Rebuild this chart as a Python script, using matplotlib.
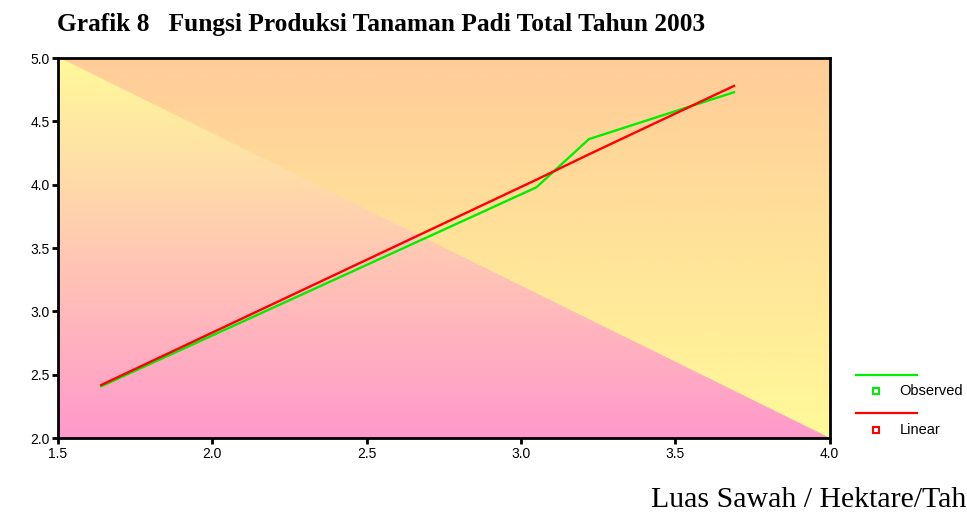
import matplotlib as mpl
mpl.use("Agg")
import matplotlib.pyplot as plt
from matplotlib.lines import Line2D
import numpy as np

# data
luas_sawah = [1.64, 3.05, 3.22, 3.69]
observed = [2.41, 3.98, 4.36, 4.73]
linear = [2.42, 4.04, 4.24, 4.78]

x_ticks = [1.5, 2.0, 2.5, 3.0, 3.5, 4.0]
y_ticks = [2.0, 2.5, 3.0, 3.5, 4.0, 4.5, 5.0]

TITLE = "Grafik 8   Fungsi Produksi Tanaman Padi Total Tahun 2003"
XLABEL = "Luas Sawah / Hektare/Tah"   # cut off like this in the original

# background colours
ORANGE = np.array([255, 204, 153]) / 255
YELLOW = np.array([255, 250, 153]) / 255
PINK = np.array([255, 153, 204]) / 255

fig = plt.figure(figsize=(9.67, 5.18), dpi=100)
ax = fig.add_axes([0.060, 0.154, 0.798, 0.734])

# ── gradient background: two triangles split by the diagonal ───────────────
ny, nx = 400, 800
yy, xx = np.mgrid[0:1:ny * 1j, 0:1:nx * 1j]   # yy: 0 top -> 1 bottom
t = yy[..., None]
upper = ORANGE * (1 - t) + YELLOW * t
lower = YELLOW * (1 - t) + PINK * t
above = (yy < xx)[..., None]
img = np.where(above, upper, lower)
ax.imshow(img, extent=[1.5, 4.0, 2.0, 5.0], aspect="auto", zorder=0,
          interpolation="bilinear")

ax.plot(luas_sawah, observed, color="#00ee00", lw=1.7, zorder=2)
ax.plot(luas_sawah, linear, color="#ff0000", lw=1.7, zorder=3)

ax.set_xlim(1.5, 4.0)
ax.set_ylim(2.0, 5.0)
ax.set_xticks(x_ticks)
ax.set_yticks(y_ticks)
ax.set_xticklabels([f"{v:.1f}" for v in x_ticks], family="Liberation Sans")
ax.set_yticklabels([f"{v:.1f}" for v in y_ticks], family="Liberation Sans")
ax.tick_params(direction="out", length=4, width=2, labelsize=10, pad=2,
               colors="black")
for s in ax.spines.values():
    s.set_linewidth(2)

fig.text(0.059, 0.952, TITLE, fontsize=18.3, fontweight="bold",
         family="Liberation Serif", ha="left", va="center")
fig.text(0.673, 0.035, XLABEL, fontsize=21.5, family="Liberation Serif",
         ha="left", va="center")

# ── legend, drawn outside the axes ───────────────────────────────────────────
fig.add_artist(Line2D([0.885, 0.948], [0.276, 0.276], color="#00ee00", lw=1.6))
fig.add_artist(Line2D([0.906], [0.245], marker="s", ms=5, mfc="none",
                      mec="#00ee00", mew=1.5))
fig.text(0.930, 0.245, "Observed", fontsize=10.5, va="center", ha="left",
         family="Liberation Sans")
fig.add_artist(Line2D([0.885, 0.948], [0.203, 0.203], color="#ff0000", lw=1.6))
fig.add_artist(Line2D([0.906], [0.170], marker="s", ms=5, mfc="none",
                      mec="#ff0000", mew=1.5))
fig.text(0.930, 0.170, "Linear", fontsize=10.5, va="center", ha="left",
         family="Liberation Sans")

fig.savefig("out.png", dpi=100)
